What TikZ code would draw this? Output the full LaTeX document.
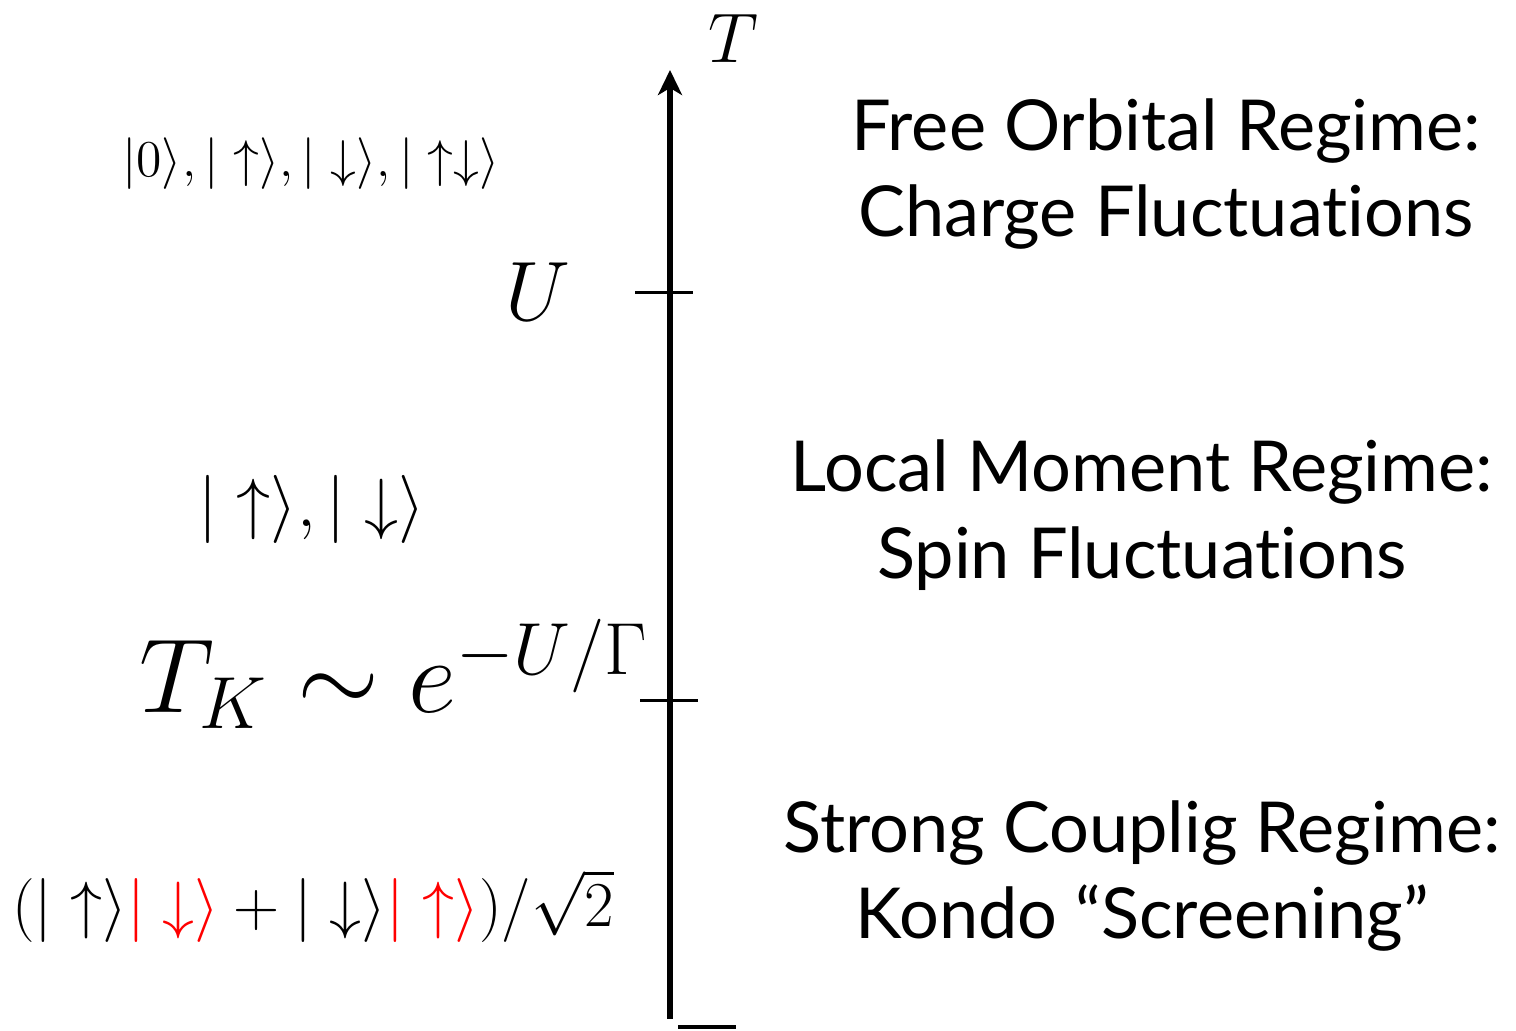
\RequirePackage{fix-cm}
\documentclass[tikz,border=0pt]{standalone}
\usepackage{fontspec}
\newfontfamily\regimefont[Ligatures=NoCommon]{Lato}
\usepackage{xcolor}
\usetikzlibrary{arrows.meta, positioning}
\definecolor{kred}{HTML}{FF0000}

\tikzset{
  axisline/.style={line width=1.7pt, -{Stealth[length=0.25cm, width=0.24cm, inset=0.07cm]}},
  tickline/.style={line width=0.85pt},
  regimetxt/.style={font=\regimefont\fontsize{20}{24.7}\selectfont, align=center, inner sep=0pt},
  mathlbl/.style={inner sep=0pt, anchor=base}
}

\begin{document}
\begin{tikzpicture}[x=1cm, y=1cm]
\useasboundingbox (0,0) rectangle (15.16,10.31);
% temperature axis
\coordinate (axbot) at (6.70,0.12);
\coordinate (axtop) at (6.70,9.61);
\draw[axisline] (axbot) -- (axtop);
\coordinate (floorL) at (6.78,0.04);
\coordinate (floorR) at (7.36,0.04);
\draw[line width=1.1pt] (floorL) -- (floorR);
% scale marks
\coordinate (uL) at (6.35,7.38);
\coordinate (uR) at (6.93,7.38);
\draw[tickline] (uL) -- (uR);
\coordinate (tkL) at (6.40,3.30);
\coordinate (tkR) at (6.98,3.30);
\draw[tickline] (tkL) -- (tkR);
% axis labels
\node[mathlbl, font=\fontsize{20}{24}\selectfont] (tlbl) at (7.33,9.68) {$T$};
\node[mathlbl, font=\fontsize{24}{29}\selectfont] (ulbl) at (5.38,7.10) {$U$};
\node[mathlbl, font=\fontsize{30}{36}\selectfont] (tklbl) at (3.94,3.18) {$T_K\sim e^{-U/\Gamma}$};
% impurity states
\node[mathlbl, font=\fontsize{14.7}{18}\selectfont] (freestates) at (3.11,8.54)
  {$|0\rangle, |\uparrow\rangle, |\downarrow\rangle, |\uparrow\downarrow\rangle$};
\node[mathlbl, font=\fontsize{19.4}{23}\selectfont] (momstates) at (3.12,5.04)
  {$|\uparrow\rangle, |\downarrow\rangle$};
\node[mathlbl, font=\fontsize{18.2}{22}\selectfont] (singlet) at (3.13,1.04)
  {$(|\uparrow\rangle\textcolor{kred}{|\downarrow\rangle}+|\downarrow\rangle\textcolor{kred}{|\uparrow\rangle})/\sqrt{2}$};
% regimes
\node[regimetxt] (freereg) at (11.66,8.57) {Free Orbital Regime:\\Charge Fluctuations};
\node[regimetxt] (momreg) at (11.42,5.16) {Local Moment Regime:\\Spin Fluctuations};
\node[regimetxt] (kondoreg) at (11.42,1.55) {Strong Couplig Regime:\\Kondo “Screening”};
\end{tikzpicture}
\end{document}
